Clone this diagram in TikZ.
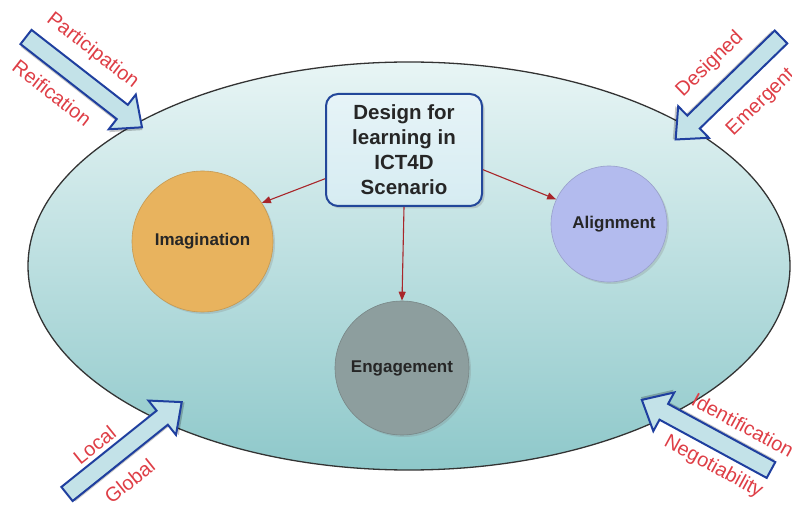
\documentclass[tikz,border=0pt]{standalone}
\usepackage{fontspec}
\setmainfont{Liberation Sans}
\usetikzlibrary{arrows.meta,calc,shadows}
\definecolor{ellTop}{HTML}{E8F5F5}
\definecolor{ellBot}{HTML}{8EC8CA}
\definecolor{boxFill}{HTML}{D6ECF2}
\definecolor{boxLine}{HTML}{23479A}
\definecolor{arrFill}{HTML}{C3E2E8}
\definecolor{arrLine}{HTML}{1F3F9F}
\definecolor{lblRed}{HTML}{DE3E46}
\definecolor{relRed}{HTML}{A8262A}
\definecolor{imagFill}{HTML}{E8B35E}
\definecolor{alignFill}{HTML}{B3BBEE}
\definecolor{engFill}{HTML}{8D9E9E}
\tikzset{
  lbl/.style={text=lblRed, font=\fontsize{20}{22}\selectfont, inner sep=0pt, transform shape},
  blk/.style={fill=arrFill, draw=arrLine, line width=2pt, line join=miter},
  blkshadow/.style={fill=black, opacity=0.22},
  circ/.style={circle, minimum size=#1, inner sep=0pt, font=\fontsize{17}{19}\selectfont\bfseries, text=black!85,
    drop shadow={opacity=0.25, shadow xshift=2pt, shadow yshift=-2pt}},
  rel/.style={draw=relRed, line width=1.1pt, -{Triangle[length=9pt,width=7pt]}},
  mainbox/.style={draw=boxLine, line width=2pt, rounded corners=12pt, top color=boxFill!60!white, bottom color=boxFill,
    minimum width=156pt, minimum height=112pt, align=center, inner sep=2pt,
    font=\fontsize{20.5}{25}\selectfont\bfseries, text=black!85,
    drop shadow={opacity=0.3, shadow xshift=2.5pt, shadow yshift=-2.5pt}}
}
\newcommand{\myblockarrow}{%
  \fill[blkshadow] (2,-11) -- (124,-11) -- (124,-24) -- (149,-2) -- (124,20) -- (124,7) -- (2,7) -- cycle;
  \draw[blk] (0,-9) -- (122,-9) -- (122,-22) -- (147,0) -- (122,22) -- (122,9) -- (0,9) -- cycle;}
\begin{document}
\begin{tikzpicture}[x=1pt,y=1pt]
\useasboundingbox (0,0) rectangle (792,506);
% big ellipse
\draw[black!80, line width=1.3pt, top color=ellTop, bottom color=ellBot] (409,240) ellipse [x radius=381, y radius=204];

% central box and circles
\node[mainbox] (box) at (404,356) {Design for\\learning in\\ICT4D\\Scenario};
\node[circ=141pt, fill=imagFill, draw=imagFill!85!black, line width=0.6pt] (imag) at (202.5,264.5) {Imagination};
\node[circ=116pt, fill=alignFill, draw=alignFill!85!black, line width=0.6pt] (align) at (609,282) {\hspace*{10pt}Alignment};
\node[circ=134pt, fill=engFill, draw=engFill!85!black, line width=0.6pt] (eng) at (402,138) {Engagement};

\draw[rel] (box.200) -- (imag.33);
\draw[rel] (box.-14) -- (align.155);
\draw[rel] (box.south) -- (eng.north);

% block arrows with labels
\begin{scope}[shift={(26,469)}, rotate=-37.9]
  \myblockarrow
  \node[lbl] (part) at (61,30) {Participation};
  \node[lbl] (reif) at (55,-28) {Reification};
\end{scope}
\begin{scope}[shift={(781,469)}, rotate=-135.8]
  \myblockarrow
  \node[lbl, rotate=180] (desi) at (70,-30) {Designed};
  \node[lbl, rotate=180] (emer) at (60,33) {Emergent};
\end{scope}
\begin{scope}[shift={(67,12)}, rotate=38.7]
  \myblockarrow
  \node[lbl] (loca) at (52,21) {Local};
  \node[lbl] (glob) at (57,-29) {Global};
\end{scope}
\begin{scope}[shift={(771,36)}, rotate=151.5]
  \myblockarrow
  \node[lbl, rotate=180] (iden) at (46,-26) {Identification};
  \node[lbl, rotate=180] (nego) at (52,25) {Negotiability};
\end{scope}
\end{tikzpicture}
\end{document}
